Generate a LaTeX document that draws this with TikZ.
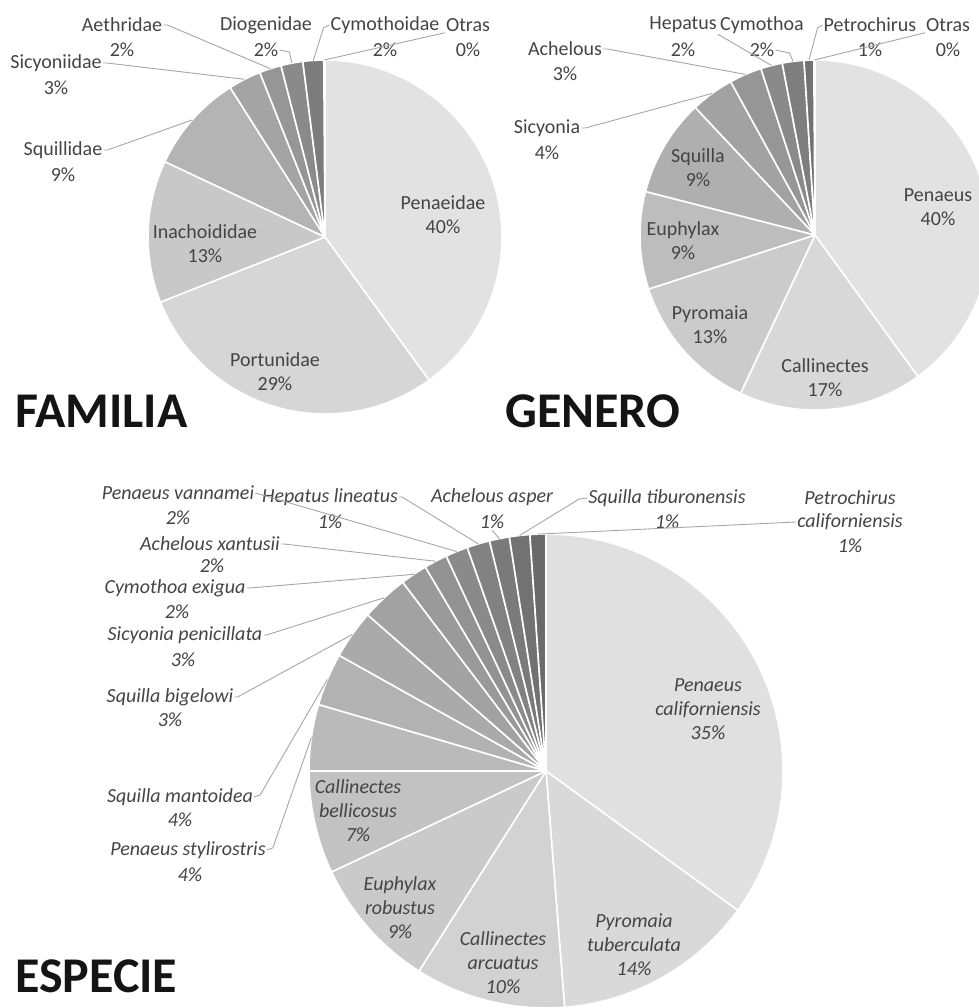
\documentclass[tikz,border=0pt]{standalone}
\usepackage{fontspec}
\setmainfont{Carlito}
\definecolor{labc}{HTML}{444444}
\definecolor{leadc}{HTML}{A6A6A6}
\definecolor{titc}{HTML}{141414}
\definecolor{c226}{RGB}{226,226,226}
\definecolor{c224}{RGB}{224,224,224}
\definecolor{c217}{RGB}{217,217,217}
\definecolor{c216}{RGB}{216,216,216}
\definecolor{c214}{RGB}{214,214,214}
\definecolor{c210}{RGB}{210,210,210}
\definecolor{c203}{RGB}{203,203,203}
\definecolor{c202}{RGB}{202,202,202}
\definecolor{c200}{RGB}{200,200,200}
\definecolor{c194}{RGB}{194,194,194}
\definecolor{c189}{RGB}{189,189,189}
\definecolor{c186}{RGB}{186,186,186}
\definecolor{c180}{RGB}{180,180,180}
\definecolor{c178}{RGB}{178,178,178}
\definecolor{c175}{RGB}{175,175,175}
\definecolor{c170}{RGB}{170,170,170}
\definecolor{c164}{RGB}{164,164,164}
\definecolor{c162}{RGB}{162,162,162}
\definecolor{c154}{RGB}{154,154,154}
\definecolor{c150}{RGB}{150,150,150}
\definecolor{c146}{RGB}{146,146,146}
\definecolor{c138}{RGB}{138,138,138}
\definecolor{c130}{RGB}{130,130,130}
\definecolor{c126}{RGB}{126,126,126}
\definecolor{c124}{RGB}{124,124,124}
\definecolor{c122}{RGB}{122,122,122}
\definecolor{c114}{RGB}{114,114,114}
\definecolor{c106}{RGB}{106,106,106}
% slice: cx cy r a1 a2 colour (angles clockwise from 12 o'clock)
\newcommand\pslice[6]{\filldraw[fill=#6, draw=white, line width=1.6pt, line join=round] (#1,#2) -- ++({#4-90}:#3) arc[start angle={#4-90}, end angle={#5-90}, radius=#3] -- cycle;}
% edge point: name cx cy r angle
\newcommand\edgept[5]{\coordinate (#1) at ([shift={(#2,#3)}]{#5-90}:#4);}
\begin{document}
\begin{tikzpicture}[x=1pt,y=-1pt,
  lab/.style={font=\fontsize{20}{24}\selectfont, text=labc, inner sep=1pt},
  labm/.style={lab, align=center},
  ilab/.style={font=\fontsize{20}{24}\selectfont\itshape, text=labc, inner sep=1pt},
  ilabm/.style={ilab, align=center},
  leader/.style={draw=leadc, line width=0.9pt},
  title/.style={font=\fontsize{50}{52}\selectfont\bfseries, text=titc, anchor=base west, inner sep=0pt}]
\useasboundingbox (0,0) rectangle (978,1008);

%================ FAMILIA =================
\pslice{325}{237}{177}{0}{144}{c226}
\pslice{325}{237}{177}{144}{248.4}{c214}
\pslice{325}{237}{177}{248.4}{295.2}{c200}
\pslice{325}{237}{177}{295.2}{327.6}{c180}
\pslice{325}{237}{177}{327.6}{338.4}{c164}
\pslice{325}{237}{177}{338.4}{345.6}{c150}
\pslice{325}{237}{177}{345.6}{352.8}{c138}
\pslice{325}{237}{177}{352.8}{359.6}{c124}

\node[labm] (fpe) at (443,215) {Penaeidae\\40\%};
\node[labm] (fpo) at (275,372) {Portunidae\\29\%};
\node[labm] (fin) at (205,244) {Inachoididae\\13\%};

\node[lab] (fsq) at (63,150) {Squillidae};
\node[lab] (fsqp) at (63,175) {9\%};
\node[lab] (fsi) at (56,63) {Sicyoniidae};
\node[lab] (fsip) at (56,88) {3\%};
\node[lab] (fae) at (122,25) {Aethridae};
\node[lab] (faep) at (122,50) {2\%};
\node[lab] (fdi) at (266,25) {Diogenidae};
\node[lab] (fdip) at (266,50) {2\%};
\node[lab] (fcy) at (385,25) {Cymothoidae};
\node[lab] (fcyp) at (385,50) {2\%};
\node[lab] (fot) at (468,25) {Otras};
\node[lab] (fotp) at (468,50) {0\%};

\edgept{e-fsq}{325}{237}{177}{311.4}
\edgept{e-fsi}{325}{237}{177}{333}
\edgept{e-fae}{325}{237}{177}{342}
\edgept{e-fdi}{325}{237}{177}{349.2}
\edgept{e-fcy}{325}{237}{177}{356.2}
\edgept{e-fot}{325}{237}{177}{359.8}
\draw[leader] (fsq.east) -- ++(4,0) -- (e-fsq);
\draw[leader] (fsi.east) -- ++(4,0) -- (e-fsi);
\draw[leader] (fae.east) -- ++(4,0) -- (e-fae);
\draw[leader] (fdip.east) -- ++(10,2) -- (e-fdi);
\draw[leader] (fcy.west) -- ++(-6,3) -- (e-fcy);
\draw[leader] (fot.south west) -- (e-fot);

\node[title] (tfam) at (15,427) {FAMILIA};

%================ GENERO =================
\pslice{815}{235}{175}{0}{144}{c226}
\pslice{815}{235}{175}{144}{205.2}{c216}
\pslice{815}{235}{175}{205.2}{252}{c203}
\pslice{815}{235}{175}{252}{284.4}{c189}
\pslice{815}{235}{175}{284.4}{316.8}{c175}
\pslice{815}{235}{175}{316.8}{331.2}{c162}
\pslice{815}{235}{175}{331.2}{342}{c150}
\pslice{815}{235}{175}{342}{349.2}{c138}
\pslice{815}{235}{175}{349.2}{356.4}{c126}
\pslice{815}{235}{175}{356.4}{359.6}{c114}

\node[labm] (gpe) at (938,207) {Penaeus\\40\%};
\node[labm] (gca) at (825,378) {Callinectes\\17\%};
\node[labm] (gpy) at (710,325) {Pyromaia\\13\%};
\node[labm] (geu) at (683,241) {Euphylax\\9\%};
\node[labm] (gsq) at (698,168) {Squilla\\9\%};

\node[lab] (gsi) at (547,128) {Sicyonia};
\node[lab] (gsip) at (547,153) {4\%};
\node[lab] (gac) at (565,49) {Achelous};
\node[lab] (gacp) at (565,74) {3\%};
\node[lab] (ghe) at (683,25) {Hepatus};
\node[lab] (ghep) at (683,50) {2\%};
\node[lab] (gcy) at (762,25) {Cymothoa};
\node[lab] (gcyp) at (762,50) {2\%};
\node[lab] (gpc) at (870,25) {Petrochirus};
\node[lab] (gpcp) at (870,50) {1\%};
\node[lab] (got) at (948,25) {Otras};
\node[lab] (gotp) at (948,50) {0\%};

\edgept{e-gsi}{815}{235}{175}{324}
\edgept{e-gac}{815}{235}{175}{336.6}
\edgept{e-ghe}{815}{235}{175}{345.6}
\edgept{e-gcy}{815}{235}{175}{352.8}
\edgept{e-gpc}{815}{235}{175}{358}
\edgept{e-got}{815}{235}{175}{359.8}
\draw[leader] (gsi.east) -- ++(4,0) -- (e-gsi);
\draw[leader] (gac.east) -- ++(4,0) -- (e-gac);
\draw[leader] (ghe.south east) -- (e-ghe);
\draw[leader] (gcyp.east) -- ++(14,3) -- (e-gcy);
\draw[leader] (gpc.west) -- ++(-5,3) -- (e-gpc);
\draw[leader] (got.south west) -- (e-got);

\node[title] (tgen) at (505,427) {GENERO};

%================ ESPECIE =================
\pslice{546}{771}{237}{0}{126}{c224}
\pslice{546}{771}{237}{126}{175.5}{c217}
\pslice{546}{771}{237}{175.5}{212.4}{c210}
\pslice{546}{771}{237}{212.4}{244.8}{c202}
\pslice{546}{771}{237}{244.8}{270}{c194}
\pslice{546}{771}{237}{270}{286.3}{c186}
\pslice{546}{771}{237}{286.3}{299.2}{c178}
\pslice{546}{771}{237}{299.2}{311.2}{c170}
\pslice{546}{771}{237}{311.2}{322.8}{c162}
\pslice{546}{771}{237}{322.8}{329.4}{c154}
\pslice{546}{771}{237}{329.4}{335.1}{c146}
\pslice{546}{771}{237}{335.1}{340.6}{c138}
\pslice{546}{771}{237}{340.6}{346.2}{c130}
\pslice{546}{771}{237}{346.2}{351.1}{c122}
\pslice{546}{771}{237}{351.1}{356.1}{c114}
\pslice{546}{771}{237}{356.1}{360}{c106}

\node[ilabm] (epc) at (708,709) {Penaeus\\californiensis\\35\%};
\node[ilabm] (ept) at (634,945) {Pyromaia\\tuberculata\\14\%};
\node[ilabm] (eca) at (503,963) {Callinectes\\arcuatus\\10\%};
\node[ilabm] (eer) at (400,908) {Euphylax\\robustus\\9\%};
\node[ilabm] (ecb) at (358,811) {Callinectes\\bellicosus\\7\%};

\node[ilab] (epv) at (178,493) {Penaeus vannamei};
\node[ilab] (epvp) at (178,518) {2\%};
\node[ilab] (ehl) at (330,497) {Hepatus lineatus};
\node[ilab] (ehlp) at (330,522) {1\%};
\node[ilab] (eaa) at (492,497) {Achelous asper};
\node[ilab] (eaap) at (492,522) {1\%};
\node[ilab] (est) at (667,498) {Squilla tiburonensis};
\node[ilab] (estp) at (667,522) {1\%};
\node[ilab] (epe1) at (850,498) {Petrochirus};
\node[ilab] (epe2) at (850,522) {californiensis};
\node[ilab] (epep) at (850,546) {1\%};
\node[ilab] (eax) at (210,544) {Achelous xantusii};
\node[ilab] (eaxp) at (212,566) {2\%};
\node[ilab] (ece) at (175,588) {Cymothoa exigua};
\node[ilab] (ecep) at (177,612) {2\%};
\node[ilab] (esp) at (185,635) {Sicyonia penicillata};
\node[ilab] (espp) at (183,660) {3\%};
\node[ilab] (esb) at (170,697) {Squilla bigelowi};
\node[ilab] (esbp) at (170,720) {3\%};
\node[ilab] (esm) at (180,797) {Squilla mantoidea};
\node[ilab] (esmp) at (180,820) {4\%};
\node[ilab] (eps) at (188,850) {Penaeus stylirostris};
\node[ilab] (epsp) at (190,875) {4\%};

\edgept{e-ps}{546}{771}{237}{278.15}
\edgept{e-sm}{546}{771}{237}{292.75}
\edgept{e-sb}{546}{771}{237}{305.2}
\edgept{e-sp}{546}{771}{237}{317}
\edgept{e-ce}{546}{771}{237}{326.1}
\edgept{e-ax}{546}{771}{237}{332.25}
\edgept{e-pv}{546}{771}{237}{337.85}
\edgept{e-hl}{546}{771}{237}{343.4}
\edgept{e-aa}{546}{771}{237}{348.65}
\edgept{e-st}{546}{771}{237}{353.6}
\edgept{e-pe}{546}{771}{237}{358.05}
\draw[leader] (epv.east) -- (e-pv);
\draw[leader] (ehl.east) -- ++(3,0) -- (e-hl);
\draw[leader] (eaap.south) -- (e-aa);
\draw[leader] (est.west) -- ++(-8,1) -- (e-st);
\draw[leader] (epe2.west) -- (e-pe);
\draw[leader] (eax.east) -- ++(3,0) -- (e-ax);
\draw[leader] (ece.east) -- ++(3,0) -- (e-ce);
\draw[leader] (esp.east) -- ++(3,0) -- (e-sp);
\draw[leader] (esb.east) -- ++(3,0) -- (e-sb);
\draw[leader] (esm.east) -- ++(6,-2) -- (e-sm);
\draw[leader] (eps.east) -- ++(6,-2) -- (e-ps);

\node[title] (tesp) at (15,992) {ESPECIE};
\end{tikzpicture}
\end{document}
